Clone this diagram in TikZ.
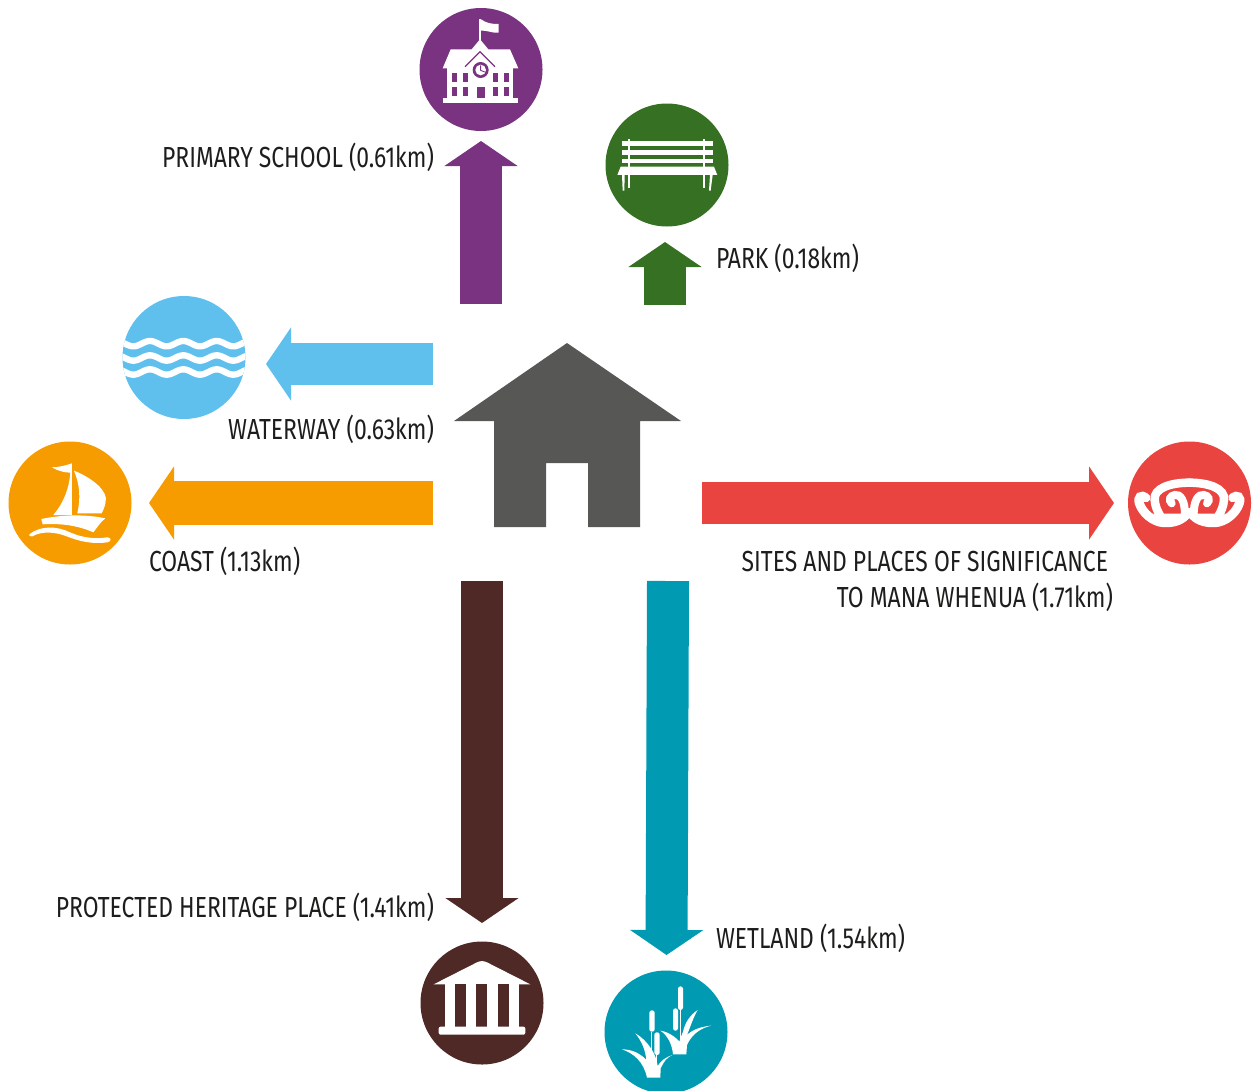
\documentclass[tikz,border=0pt]{standalone}
\usepackage{fontspec}
\setmainfont[FakeStretch=0.79]{Fira Sans}
\usetikzlibrary{arrows.meta}
\definecolor{cpurple}{HTML}{7A3380}
\definecolor{cgreen}{HTML}{367022}
\definecolor{cblue}{HTML}{5FC0EE}
\definecolor{corange}{HTML}{F79C00}
\definecolor{cred}{HTML}{E9443F}
\definecolor{cbrown}{HTML}{4F2926}
\definecolor{cteal}{HTML}{009BB2}
\definecolor{chouse}{HTML}{575756}
\definecolor{ctext}{HTML}{1D1D1B}
\tikzset{
  disc/.style={circle,minimum size=123pt,inner sep=0pt,outer sep=0pt},
  blockarrow/.style={line width=42pt,-{Triangle[width=72pt,length=25pt]}},
  lab/.style={font=\fontsize{29}{36}\selectfont,text=ctext,inner sep=0pt,outer sep=0pt},
  iconscale/.style={x=0.3333pt,y=-0.3333pt}
}
\newcommand\ikoruhalf{%
\fill[white] (100,236) -- (208,236) -- (208,240) -- (190,262) -- (130,270) -- cycle;
\draw[white,line width=9pt,line cap=round] (204,232) .. controls (190,256) and (160,265) .. (130,263) .. controls (100,261) and (68,235) .. (58,205) .. controls (52,186) and (64,178) .. (78,188);
\draw[white,line width=8.5pt,line cap=round] (209,143) .. controls (150,143) and (100,160) .. (104,195) .. controls (106,215) and (112,228) .. (122,245);
\draw[white,line width=8pt,line cap=round] (195,245) .. controls (196,195) and (180,177) .. (165,180) .. controls (150,182) and (145,195) .. (155,205);
}
\begin{document}
\begin{tikzpicture}[x=1pt,y=-1pt]
\useasboundingbox (0,0) rectangle (1257,1090);
% house
\fill[chouse] (567,343) -- (681,421) -- (640,421) -- (640,527) -- (588,527) -- (588,463) -- (546,463) -- (546,527) -- (494,527) -- (494,421) -- (454,421) -- cycle;
\node[disc,fill=cpurple] (school) at (481,69.5) {};
\node[disc,fill=cgreen] (park) at (667,165) {};
\node[disc,fill=cblue] (water) at (184,357.5) {};
\node[disc,fill=corange] (coast) at (70,503) {};
\node[disc,fill=cred] (sites) at (1189.5,503) {};
\node[disc,fill=cbrown] (heritage) at (482,1003) {};
\node[disc,fill=cteal] (wetland) at (666,1032) {};
% arrow ends
\coordinate (a1) at (481,304); \coordinate (b1) at (481,141);
\coordinate (a2) at (665,305); \coordinate (b2) at (665,242);
\coordinate (a3) at (433,364); \coordinate (b3) at (266,364);
\coordinate (a4) at (433,503); \coordinate (b4) at (149,503);
\coordinate (a5) at (702,503); \coordinate (b5) at (1114,503);
\coordinate (a6) at (482,581); \coordinate (b6) at (482,923);
\coordinate (a7) at (668,581); \coordinate (b7) at (666.5,955);
\draw[blockarrow,cpurple] (a1) -- (b1);
\draw[blockarrow,cgreen] (a2) -- (b2);
\draw[blockarrow,cblue] (a3) -- (b3);
\draw[blockarrow,corange,line width=44pt] (a4) -- (b4);
\draw[blockarrow,cred] (a5) -- (b5);
\draw[blockarrow,cbrown] (a6) -- (b6);
\draw[blockarrow,cteal] (a7) -- (b7);
% labels
\node[lab,anchor=base east] (l1) at (434,167.5) {PRIMARY SCHOOL (0.61km)};
\node[lab,anchor=base west] (l2) at (716,268.5) {PARK (0.18km)};
\node[lab,anchor=base east] (l3) at (434,439.5) {WATERWAY (0.63km)};
\node[lab,anchor=base west] (l4) at (149,571.5) {COAST (1.13km)};
\node[lab,anchor=base east] (l5a) at (1108,571.5) {SITES AND PLACES OF SIGNIFICANCE};
\node[lab,anchor=base east] (l5b) at (1113,607.5) {TO MANA WHENUA (1.71km)};
\node[lab,anchor=base east] (l6) at (434,917.5) {PROTECTED HERITAGE PLACE (1.41km)};
\node[lab,anchor=base west] (l7) at (716,948.5) {WETLAND (1.54km)};
% school icon
\begin{scope}[shift={(410,0)},iconscale]
\fill[white] (208,58) rectangle (213,125);
\fill[white] (213,58) .. controls (230,70) and (245,72) .. (266,72) -- (266,98) .. controls (245,100) and (230,90) .. (213,92) -- cycle;
\fill[white] (122,148) -- (185,148) -- (210,118) -- (235,148) -- (300,148) -- (325,205) -- (98,205) -- cycle;
\fill[white] (112,205) rectangle (310,295);
\fill[white] (98,295) rectangle (325,308);
\draw[cpurple,line width=1.2pt] (165,200) -- (210,155) -- (255,200);
\fill[cpurple] (212,210) circle (24);
\fill[white] (212,210) circle (16);
\draw[cpurple,line width=0.9pt] (212,196) -- (212,211) -- (224,216);
\foreach \wx/\ww in {125/15,158/16,250/15,283/15}{
  \fill[cpurple] (\wx,218) rectangle ++(\ww,27);
  \fill[cpurple] (\wx,260) rectangle ++(\ww,28);
}
\fill[cpurple] (200,262) rectangle (225,295);
\end{scope}
% bench icon
\begin{scope}[shift={(600,100)},iconscale]
\fill[white] (66,124) rectangle (338,138);
\fill[white] (66,151) rectangle (338,165);
\fill[white] (66,176) rectangle (338,190);
\fill[white] (84,118) rectangle (90,265);
\fill[white] (308,118) rectangle (314,265);
\fill[white] (62,200) -- (342,200) -- (352,225) -- (52,225) -- cycle;
\fill[white] (66,225) -- (74,225) -- (73,272) -- (68,272) -- cycle;
\fill[white] (330,225) -- (338,225) -- (332,272) -- (327,272) -- cycle;
\end{scope}
% water icon
\begin{scope}[shift={(115,290)},iconscale]
\clip (207,202) circle (184.5);
\foreach \yy in {161,204,246}{
  \draw[white,line width=6.3pt] plot[domain=10:400,samples=90,smooth] (\x,{\yy+8*cos(3.6*(\x-205)+180)});
}
\end{scope}
% boat icon
\begin{scope}[shift={(0,435)},iconscale]
\fill[white] (155,97) .. controls (175,97) and (195,92) .. (216,85) -- (216,240) -- (160,240) .. controls (190,205) and (208,160) .. (211,113) .. controls (195,113) and (175,108) .. (155,97) -- cycle;
\fill[white] (222,107) .. controls (280,130) and (325,170) .. (317,200) .. controls (315,215) and (310,225) .. (305,235) -- (232,235) .. controls (242,190) and (240,150) .. (222,107) -- cycle;
\fill[white] (124,252) .. controls (190,238) and (260,238) .. (316,250) .. controls (300,262) and (290,280) .. (280,292) .. controls (230,270) and (180,265) .. (128,268) -- cycle;
\fill[white] (88,298) .. controls (120,272) and (170,272) .. (210,292) .. controls (250,310) and (290,312) .. (322,307) .. controls (335,307) and (335,320) .. (322,322) .. controls (280,328) and (240,320) .. (200,304) .. controls (165,290) and (125,288) .. (97,304) .. controls (90,306) and (85,302) .. (88,298) -- cycle;
\end{scope}
% koru icon
\begin{scope}[shift={(1120,435)},iconscale]
\ikoruhalf
\begin{scope}[xshift=416*0.3333pt,xscale=-1]\ikoruhalf\end{scope}
\end{scope}
% temple icon
\begin{scope}[shift={(412,935)},iconscale]
\fill[white] (65,148) -- (195,82) .. controls (205,77) and (215,77) .. (225,82) -- (355,148) -- cycle;
\fill[white] (100,148) rectangle (320,275);
\foreach \cx in {130,192,258}{\fill[cbrown] (\cx,148) rectangle ++(33,127);}
\fill[white,rounded corners=2pt] (80,275) rectangle (340,299);
\end{scope}
% reeds icon
\begin{scope}[shift={(597,960)},iconscale]
\fill[white,rounded corners=2.4pt] (243,79) rectangle (258,150);
\fill[white,rounded corners=2.4pt] (228,145) rectangle (243,212);
\fill[white,rounded corners=2.4pt] (157,151) rectangle (173,215);
\fill[white,rounded corners=2.4pt] (172,217) rectangle (188,285);
\fill[white] (249,150) rectangle (252,240);
\fill[white] (163,215) rectangle (166,320);
\fill[white] (178,285) rectangle (181,320);
\fill[white] (150,353) -- (190,353) -- (191,325) .. controls (200,305) and (210,292) .. (226,285) .. controls (205,292) and (192,302) .. (182,318) .. controls (178,280) and (150,240) .. (115,220) .. controls (135,245) and (145,270) .. (148,300) .. controls (130,280) and (105,268) .. (75,268) .. controls (110,280) and (140,305) .. (150,353) -- cycle;
\fill[white] (228,283) -- (268,283) -- (270,255) .. controls (285,222) and (310,205) .. (342,197) .. controls (310,200) and (285,210) .. (270,225) .. controls (280,200) and (290,170) .. (302,150) .. controls (280,165) and (265,185) .. (258,215) .. controls (254,225) and (250,235) .. (247,245) .. controls (240,235) and (215,215) .. (190,212) .. controls (210,225) and (225,250) .. (228,283) -- cycle;
\end{scope}
\end{tikzpicture}
\end{document}
